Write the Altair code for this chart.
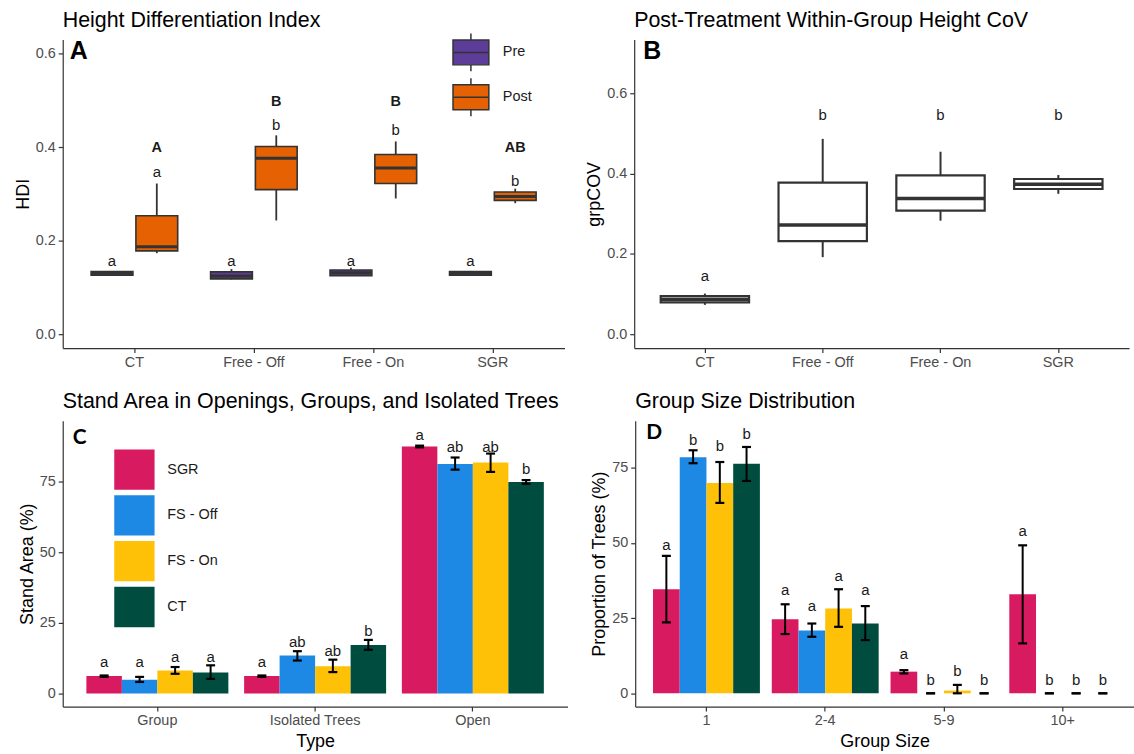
import altair as alt
import pandas as pd

FONT = "Liberation Sans"
INK = "#333333"
TXT = "#1a1a1a"

# ---------------- Panel A: Height Differentiation Index ----------------
a_treat = ["CT", "Free - Off", "Free - On", "SGR"]
a_period = ["Pre", "Post"]
a_colors = ["#5E3C99", "#E66101"]
# Pre boxes
a_pre_wlo = [0.125, 0.117, 0.124, 0.125]
a_pre_q1 = [0.126, 0.118, 0.125, 0.126]
a_pre_med = [0.130, 0.124, 0.131, 0.130]
a_pre_q3 = [0.134, 0.133, 0.137, 0.134]
a_pre_whi = [0.135, 0.139, 0.142, 0.135]
a_pre_lab = ["a", "a", "a", "a"]
a_pre_laby = [0.157, 0.157, 0.157, 0.157]
# Post boxes
a_post_wlo = [0.173, 0.243, 0.290, 0.280]
a_post_q1 = [0.178, 0.309, 0.322, 0.286]
a_post_med = [0.187, 0.376, 0.355, 0.294]
a_post_q3 = [0.253, 0.401, 0.384, 0.304]
a_post_whi = [0.322, 0.425, 0.412, 0.311]
a_post_lab = ["a", "b", "b", "b"]
a_post_laby = [0.347, 0.447, 0.437, 0.327]
a_post_big = ["A", "B", "B", "AB"]
a_post_bigy = [0.398, 0.497, 0.497, 0.398]

# ---------------- Panel B: grpCOV ----------------
b_treat = ["CT", "Free - Off", "Free - On", "SGR"]
b_wlo = [0.073, 0.192, 0.283, 0.350]
b_q1 = [0.079, 0.232, 0.308, 0.362]
b_med = [0.087, 0.272, 0.338, 0.374]
b_q3 = [0.095, 0.378, 0.396, 0.387]
b_whi = [0.101, 0.487, 0.455, 0.397]
b_lab = ["a", "b", "b", "b"]
b_laby = [0.145, 0.546, 0.546, 0.546]

# ---------------- Panels C & D ----------------
treat_order = ["SGR", "FS - Off", "FS - On", "CT"]
treat_colors = ["#D81B60", "#1E88E5", "#FFC107", "#004D40"]

c_types = ["Group", "Isolated Trees", "Open"]
c_mean = {"Group": [6.2, 4.9, 8.2, 7.5],
          "Isolated Trees": [6.2, 13.5, 9.7, 17.2],
          "Open": [87.5, 81.3, 81.8, 74.9]}
c_lo = {"Group": [5.9, 4.1, 7.0, 5.2],
        "Isolated Trees": [5.9, 11.7, 7.6, 15.5],
        "Open": [87.2, 79.3, 78.5, 74.3]}
c_hi = {"Group": [6.4, 5.9, 9.4, 10.0],
        "Isolated Trees": [6.4, 15.0, 12.0, 19.0],
        "Open": [87.8, 83.6, 85.0, 75.6]}
c_lab = {"Group": ["a", "a", "a", "a"],
         "Isolated Trees": ["a", "ab", "ab", "b"],
         "Open": ["a", "ab", "ab", "b"]}
c_laby = {"Group": [11.3, 11.3, 13.1, 13.1],
          "Isolated Trees": [11.3, 18.4, 15.2, 22.3],
          "Open": [91.4, 87.3, 87.3, 79.5]}

d_sizes = ["1", "2-4", "5-9", "10+"]
d_mean = {"1": [34.6, 78.5, 69.9, 76.3],
          "2-4": [24.6, 20.9, 28.2, 23.2],
          "5-9": [7.2, 0.0, 0.9, 0.0],
          "10+": [32.9, 0.0, 0.0, 0.0]}
d_lo = {"1": [23.6, 76.5, 63.3, 70.6],
        "2-4": [19.7, 18.8, 22.1, 17.7],
        "5-9": [6.6, 0.0, 0.0, 0.0],
        "10+": [16.6, 0.0, 0.0, 0.0]}
d_hi = {"1": [45.7, 80.8, 76.9, 81.9],
        "2-4": [29.6, 23.2, 34.6, 29.0],
        "5-9": [7.7, 0.0, 2.8, 0.0],
        "10+": [49.2, 0.0, 0.0, 0.0]}
d_lab = {"1": ["a", "b", "b", "b"],
         "2-4": ["a", "a", "a", "a"],
         "5-9": ["a", "b", "b", "b"],
         "10+": ["a", "b", "b", "b"]}
d_laby = {"1": [49.2, 84.3, 82.2, 86.3],
          "2-4": [34.3, 29.1, 39.0, 34.3],
          "5-9": [13.2, 4.3, 7.3, 4.3],
          "10+": [54.0, 4.3, 4.3, 4.3]}


def letter_layer(letter, x, y, font, size):
    return alt.Chart(pd.DataFrame({"t": [letter]})).mark_text(
        font=font, fontSize=size, fontWeight="bold", color="black",
        align="left", baseline="middle"
    ).encode(x=alt.value(x), y=alt.value(y), text="t:N")


def ay(field, scale, axis):
    return alt.Y(field, type="quantitative", scale=scale, axis=axis)


# ---------------- build Panel A ----------------
rows = []
for i, t in enumerate(a_treat):
    rows.append(dict(treat=t, period="Pre", wlo=a_pre_wlo[i], q1=a_pre_q1[i], med=a_pre_med[i],
                     q3=a_pre_q3[i], whi=a_pre_whi[i], lab=a_pre_lab[i], laby=a_pre_laby[i]))
    rows.append(dict(treat=t, period="Post", wlo=a_post_wlo[i], q1=a_post_q1[i], med=a_post_med[i],
                     q3=a_post_q3[i], whi=a_post_whi[i], lab=a_post_lab[i], laby=a_post_laby[i]))
df_a = pd.DataFrame(rows)
df_a_big = pd.DataFrame({"treat": a_treat, "period": ["Post"] * 4, "lab": a_post_big, "laby": a_post_bigy})

A_W, A_H = 504, 310
A_STEP = A_W / 4.2
a_xs = alt.Scale(paddingInner=0, paddingOuter=0.1)
a_xos = alt.Scale(domain=a_period, range=[0, A_STEP], paddingInner=0.067, paddingOuter=0.367)
a_ys = alt.Scale(domain=[-0.03, 0.63], nice=False, zero=False)
a_yaxis = alt.Axis(values=[0, 0.2, 0.4, 0.6], format=".1f", title="HDI")


def ax(sort, scale):
    return alt.X("treat:N", sort=sort, scale=scale, axis=alt.Axis(title=None))


box_path = ("M0,-1L0,-0.658M-0.947,-0.658L0.947,-0.658L0.947,0.658L-0.947,0.658Z"
            "M0,0.658L0,1M-0.947,0L0.947,0")

a_base = alt.Chart(df_a)
a_whisk = a_base.mark_rule(color=INK, strokeWidth=1.8).encode(
    x=ax(a_treat, a_xs), xOffset=alt.XOffset("period:N", scale=a_xos),
    y=ay("wlo", a_ys, a_yaxis), y2="whi:Q")
a_box = a_base.mark_bar(stroke=INK, strokeWidth=1.6, opacity=1).encode(
    x=ax(a_treat, a_xs), xOffset=alt.XOffset("period:N", scale=a_xos),
    y=ay("q1", a_ys, a_yaxis), y2="q3:Q",
    fill=alt.Fill("period:N", scale=alt.Scale(domain=a_period, range=a_colors),
                  legend=alt.Legend(title=None, orient="none", legendX=390, legendY=-7,
                                    symbolType=box_path, symbolSize=1444,
                                    symbolStrokeColor=INK, symbolStrokeWidth=1.5,
                                    rowPadding=1, labelOffset=12, padding=0,
                                    labelFont=FONT, labelFontSize=14.5, labelColor=TXT)))
a_med = a_base.mark_tick(color=INK, size=42, thickness=3, opacity=1).encode(
    x=ax(a_treat, a_xs), xOffset=alt.XOffset("period:N", scale=a_xos),
    y=ay("med", a_ys, a_yaxis))
a_txt = a_base.mark_text(font=FONT, fontSize=15, color=TXT, baseline="middle").encode(
    x=ax(a_treat, a_xs), xOffset=alt.XOffset("period:N", scale=a_xos),
    y=ay("laby", a_ys, a_yaxis), text="lab:N")
a_big = alt.Chart(df_a_big).mark_text(font=FONT, fontSize=14.5, fontWeight="bold", color=TXT,
                                      baseline="middle").encode(
    x=ax(a_treat, a_xs), xOffset=alt.XOffset("period:N", scale=a_xos),
    y=ay("laby", a_ys, a_yaxis), text="lab:N")
panel_a = alt.layer(a_whisk, a_box, a_med, a_txt, a_big,
                    letter_layer("A", 7, 12, FONT, 25)).properties(
    width=A_W, height=A_H,
    title=alt.TitleParams("Height Differentiation Index", offset=1))

# ---------------- build Panel B ----------------
df_b = pd.DataFrame(dict(treat=b_treat, wlo=b_wlo, q1=b_q1, med=b_med, q3=b_q3, whi=b_whi,
                         lab=b_lab, laby=b_laby))
B_W, B_H = 497, 310
b_xs = alt.Scale(paddingInner=0.25, paddingOuter=0.225)
b_ys = alt.Scale(domain=[-0.035, 0.735], nice=False, zero=False)
b_yaxis = alt.Axis(values=[0, 0.2, 0.4, 0.6], format=".1f", title="grpCOV")
b_base = alt.Chart(df_b)
b_whisk = b_base.mark_rule(color=INK, strokeWidth=2).encode(
    x=ax(b_treat, b_xs), y=ay("wlo", b_ys, b_yaxis), y2="whi:Q")
b_box = b_base.mark_bar(fill="white", stroke=INK, strokeWidth=2.2, opacity=1).encode(
    x=ax(b_treat, b_xs), y=ay("q1", b_ys, b_yaxis), y2="q3:Q")
b_med = b_base.mark_tick(color=INK, size=88, thickness=3.5, opacity=1).encode(
    x=ax(b_treat, b_xs), y=ay("med", b_ys, b_yaxis))
b_txt = b_base.mark_text(font=FONT, fontSize=15, color=TXT, baseline="middle").encode(
    x=ax(b_treat, b_xs), y=ay("laby", b_ys, b_yaxis), text="lab:N")
panel_b = alt.layer(b_whisk, b_box, b_med, b_txt,
                    letter_layer("B", 9, 12, FONT, 25)).properties(
    width=B_W, height=B_H, title="Post-Treatment Within-Group Height CoV")


# ---------------- bar panels ----------------
def long_df(cats, mean, lo, hi, lab, laby):
    rows = []
    for c in cats:
        for j, t in enumerate(treat_order):
            rows.append(dict(cat=c, treat=t, mean=mean[c][j], lo=lo[c][j], hi=hi[c][j],
                             lab=lab[c][j], laby=laby[c][j]))
    return pd.DataFrame(rows)


def bar_panel(df, cats, W, H, ydom, xtitle, ytitle, title, letter, lx, ly, legend):
    step = W / (len(cats) + 0.2)
    xs = alt.Scale(paddingInner=0, paddingOuter=0.1)
    xos = alt.Scale(domain=treat_order, range=[0, step], paddingInner=0, paddingOuter=0.222)
    ys = alt.Scale(domain=ydom, nice=False, zero=False)
    yaxis = alt.Axis(values=[0, 25, 50, 75], format="d", title=ytitle)

    def X():
        return alt.X("cat:N", sort=cats, scale=xs, axis=alt.Axis(title=xtitle))

    def XO():
        return alt.XOffset("treat:N", scale=xos)

    base = alt.Chart(df)
    bars = base.mark_bar(opacity=1).encode(
        x=X(), xOffset=XO(), y=ay("mean", ys, yaxis),
        color=alt.Color("treat:N", scale=alt.Scale(domain=treat_order, range=treat_colors),
                        legend=legend))
    err = base.mark_rule(color="black", strokeWidth=2).encode(
        x=X(), xOffset=XO(), y=ay("lo", ys, yaxis), y2="hi:Q")
    cap_lo = base.mark_tick(color="black", size=9, thickness=2.2, opacity=1).encode(
        x=X(), xOffset=XO(), y=ay("lo", ys, yaxis))
    cap_hi = base.mark_tick(color="black", size=9, thickness=2.2, opacity=1).encode(
        x=X(), xOffset=XO(), y=ay("hi", ys, yaxis))
    txt = base.mark_text(font=FONT, fontSize=15, color=TXT, baseline="middle").encode(
        x=X(), xOffset=XO(), y=ay("laby", ys, yaxis), text="lab:N")
    return alt.layer(bars, err, cap_lo, cap_hi, txt,
                     letter_layer(letter, lx, ly, "Lato", 21)).properties(
        width=W, height=H, title=title)


df_c = long_df(c_types, c_mean, c_lo, c_hi, c_lab, c_laby)
df_d = long_df(d_sizes, d_mean, d_lo, d_hi, d_lab, d_laby)

c_legend = alt.Legend(title=None, orient="none", legendX=50, legendY=27,
                      symbolType="square", symbolSize=1764, symbolStrokeColor="white",
                      symbolStrokeWidth=1.5, symbolOpacity=1, rowPadding=-2, labelOffset=11,
                      padding=0, labelFont=FONT, labelFontSize=14.5, labelColor=TXT)

panel_c = bar_panel(df_c, c_types, 507, 287, [-4.6, 96.6], "Type", "Stand Area (%)",
                    "Stand Area in Openings, Groups, and Isolated Trees", "C", 10, 17.5, c_legend)
panel_d = bar_panel(df_d, d_sizes, 501, 287, [-4.4, 90.6], "Group Size",
                    "Proportion of Trees (%)", "Group Size Distribution", "D", 11, 12.5, None)

top = alt.hconcat(panel_a, panel_b, spacing=21).resolve_scale(
    x="independent", y="independent", xOffset="independent", fill="independent")
bottom = alt.hconcat(panel_c, panel_d, spacing=23).resolve_scale(
    x="independent", y="independent", xOffset="independent",
    color="independent").resolve_legend(color="independent")

chart = alt.concat(top, bottom, columns=1, spacing=22, align="none").resolve_scale(
    x="independent", y="independent", xOffset="independent",
    color="independent", fill="independent"
).configure(
    padding={"left": 14, "top": 8, "right": 0, "bottom": 0},
    background="white",
    font=FONT,
).configure_view(stroke=None).configure_axis(
    domainColor=INK, domainWidth=1.2, tickColor=INK, tickWidth=1.2, tickSize=4.5,
    labelColor="#4D4D4D", labelFontSize=14.5, labelFont=FONT, labelPadding=3,
    titleFont=FONT, titleFontSize=18, titleFontWeight="normal", titleColor="black",
    titlePadding=3, grid=False,
).configure_axisX(labelAngle=0, titlePadding=5).configure_title(
    font=FONT, fontSize=21.5, fontWeight="normal", anchor="start", frame="group",
    color="black", offset=8,
)

chart.save("out.html", embed_options={"renderer": "svg", "actions": False})
